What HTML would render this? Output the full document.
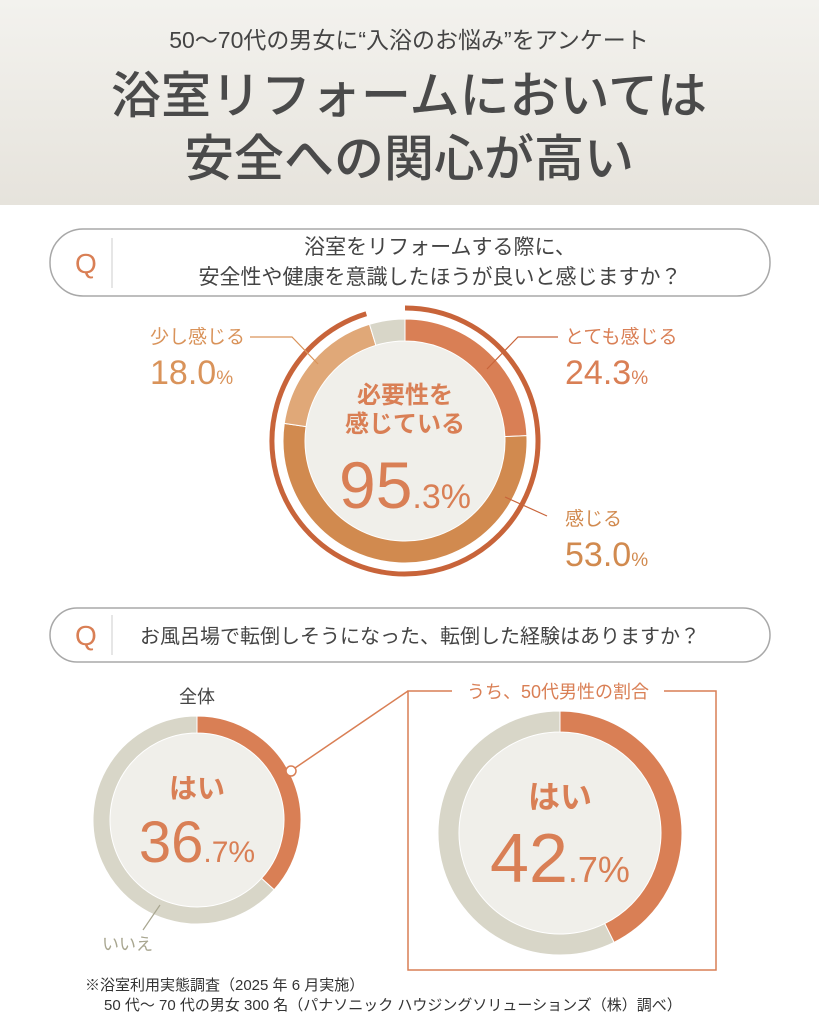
<!DOCTYPE html>
<html><head><meta charset="utf-8">
<style>
html,body{margin:0;padding:0;background:#fff;}
svg{display:block;font-family:"Liberation Sans","Noto Sans CJK JP",sans-serif;}
</style></head>
<body>
<svg id="chart" width="819" height="1024" viewBox="0 0 819 1024">
<defs>
<linearGradient id="hg" x1="0" y1="0" x2="0" y2="1"><stop offset="0" stop-color="#f3f2ee"/><stop offset="1" stop-color="#e6e3dc"/></linearGradient>
</defs>
<rect x="0" y="0" width="819" height="205" fill="url(#hg)"/>
<text x="409" y="48" text-anchor="middle" font-size="23" fill="#444">50〜70代の男女に“入浴のお悩み”をアンケート</text>
<text x="409" y="113" text-anchor="middle" font-size="50" font-weight="500" fill="#4a4a4a" style="font-family:'Noto Sans CJK JP','Liberation Sans',sans-serif">浴室リフォームにおいては</text>
<text x="409" y="176" text-anchor="middle" font-size="50" font-weight="500" fill="#4a4a4a" style="font-family:'Noto Sans CJK JP','Liberation Sans',sans-serif">安全への関心が高い</text>

<g>
<rect x="50" y="229" width="720" height="67" rx="33" fill="#fff" stroke="#a8a8a8" stroke-width="1.5"/>
<text x="75" y="273" font-size="28" fill="#d97f55">Q</text>
<line x1="112" y1="238" x2="112" y2="288" stroke="#ccc" stroke-width="1"/>
<text x="440" y="254" text-anchor="middle" font-size="21" fill="#444">浴室をリフォームする際に、</text>
<text x="440" y="284" text-anchor="middle" font-size="21" fill="#444">安全性や健康を意識したほうが良いと感じますか？</text>
</g>

<g id="donut1"></g>
<g id="donut1text">
<text x="405" y="403" text-anchor="middle" font-size="24" font-weight="bold" fill="#d97f55">必要性を</text>
<text x="405" y="432" text-anchor="middle" font-size="24" font-weight="bold" fill="#d97f55">感じている</text>
<text x="405" y="508" text-anchor="middle" fill="#d97f55" font-weight="300"><tspan font-size="66">95</tspan><tspan font-size="34">.3%</tspan></text>
</g>
<g>
<polyline points="250,337 292,337 318,364" fill="none" stroke="#d9935a" stroke-width="1.2"/>
<text x="150" y="343" font-size="19" fill="#d9935a">少し感じる</text>
<text x="150" y="384" fill="#d9935a"><tspan font-size="34">18.0</tspan><tspan font-size="19">%</tspan></text>
</g>
<g>
<polyline points="558,337 518,337 487,369" fill="none" stroke="#c8643a" stroke-width="1.2"/>
<text x="565" y="343" font-size="19" fill="#d97f55">とても感じる</text>
<text x="565" y="384" fill="#d97f55"><tspan font-size="34">24.3</tspan><tspan font-size="19">%</tspan></text>
</g>
<g>
<line x1="505" y1="497" x2="547" y2="516" stroke="#c8643a" stroke-width="1.2"/>
<text x="565" y="525" font-size="19" fill="#d18a4f">感じる</text>
<text x="565" y="566" fill="#d18a4f"><tspan font-size="34">53.0</tspan><tspan font-size="19">%</tspan></text>
</g>

<g>
<rect x="50" y="608" width="720" height="54" rx="27" fill="#fff" stroke="#a8a8a8" stroke-width="1.5"/>
<text x="75" y="645" font-size="28" fill="#d97f55">Q</text>
<line x1="112" y1="615" x2="112" y2="655" stroke="#ccc" stroke-width="1"/>
<text x="140" y="643" font-size="20" fill="#444">お風呂場で転倒しそうになった、転倒した経験はありますか？</text>
</g>

<text x="197" y="703" text-anchor="middle" font-size="18" fill="#444">全体</text>
<g id="donut2"></g>
<g>
<text x="197" y="798" text-anchor="middle" font-size="28" font-weight="bold" fill="#d97f55">はい</text>
<text x="197" y="862" text-anchor="middle" fill="#d97f55" font-weight="300"><tspan font-size="58">36</tspan><tspan font-size="30">.7%</tspan></text>
</g>
<line x1="143" y1="930" x2="160" y2="905" stroke="#a8a690" stroke-width="1.2"/>
<text x="102" y="950" font-size="17" fill="#a8a690">いいえ</text>

<rect x="408" y="691" width="308" height="279" fill="none" stroke="#d97f55" stroke-width="1.5"/>
<line x1="295" y1="768" x2="408" y2="691" stroke="#d97f55" stroke-width="1.5"/>
<circle cx="291" cy="771" r="5" fill="#fff" stroke="#d97f55" stroke-width="1.5"/>
<rect x="452" y="680" width="212" height="22" fill="#fff"/>
<text x="558" y="698" text-anchor="middle" font-size="18" fill="#d97f55">うち、50代男性の割合</text>
<g id="donut3"></g>
<g>
<text x="560" y="808" text-anchor="middle" font-size="32" font-weight="bold" fill="#d97f55">はい</text>
<text x="560" y="882" text-anchor="middle" fill="#d97f55" font-weight="300"><tspan font-size="70">42</tspan><tspan font-size="36">.7%</tspan></text>
</g>

<text x="85" y="990" font-size="15" fill="#333">※浴室利用実態調査（2025 年 6 月実施）</text>
<text x="104" y="1010" font-size="15" fill="#333">50 代〜 70 代の男女 300 名（パナソニック ハウジングソリューションズ（株）調べ）</text>
</svg>
<script>
const q1Categories = ["とても感じる","感じる","少し感じる","その他"];
const q1Values = [24.3, 53.0, 18.0, 4.7];
const q1Need = [95.3];
const q2Categories = ["はい","いいえ"];
const q2Overall = [36.7, 63.3];
const q2Male50s = [42.7, 57.3];

const NS = "http://www.w3.org/2000/svg";
function pt(cx, cy, r, a){ const t=(a-90)*Math.PI/180; return [cx+r*Math.cos(t), cy+r*Math.sin(t)]; }
function ang(v, total){ return v/total*360; }
function segPath(cx,cy,ro,ri,a0,a1){
  const L = (a1-a0)>180?1:0;
  const p1=pt(cx,cy,ro,a0),p2=pt(cx,cy,ro,a1),p3=pt(cx,cy,ri,a1),p4=pt(cx,cy,ri,a0);
  return `M${p1}A${ro},${ro} 0 ${L} 1 ${p2}L${p3}A${ri},${ri} 0 ${L} 0 ${p4}Z`;
}
function donut(gid, cx, cy, ro, ri, values, colors, names){
  const g=document.getElementById(gid);
  const total=values.reduce((a,b)=>a+b,0);
  const inner=document.createElementNS(NS,"circle");
  inner.setAttribute("cx",cx);inner.setAttribute("cy",cy);inner.setAttribute("r",ri);inner.setAttribute("fill","#f0efea");
  
  
  g.appendChild(inner);
  let a=0;
  values.forEach((v,i)=>{
    const a1=a+ang(v,total);
    const p=document.createElementNS(NS,"path");
    p.setAttribute("d",segPath(cx,cy,ro,ri,a,a1));
    p.setAttribute("fill",colors[i]);
    p.setAttribute("stroke","#fff");p.setAttribute("stroke-width","1");
    
    
    g.appendChild(p);
    a=a1;
  });
}
donut("donut1",405,441,122,100,q1Values,["#d97f55","#d18a4f","#e0a878","#d8d6c8"],["totemo","kanjiru","sukoshi","other"]);
(function(){
  const g=document.getElementById("donut1");
  const a1=ang(q1Need[0],100);
  const r=133;
  const p0=pt(405,441,r,0),p1=pt(405,441,r,a1);
  const arc=document.createElementNS(NS,"path");
  arc.setAttribute("d",`M${p0}A${r},${r} 0 ${a1>180?1:0} 1 ${p1}`);
  arc.setAttribute("fill","none");arc.setAttribute("stroke","#c8643a");arc.setAttribute("stroke-width","5");
  
  
  g.appendChild(arc);
})();
donut("donut2",197,820,104,87,q2Overall,["#d97f55","#d8d6c8"],["yes","no"]);
donut("donut3",560,833,122,101,q2Male50s,["#d97f55","#d8d6c8"],["yes","no"]);
</script>
</body></html>
